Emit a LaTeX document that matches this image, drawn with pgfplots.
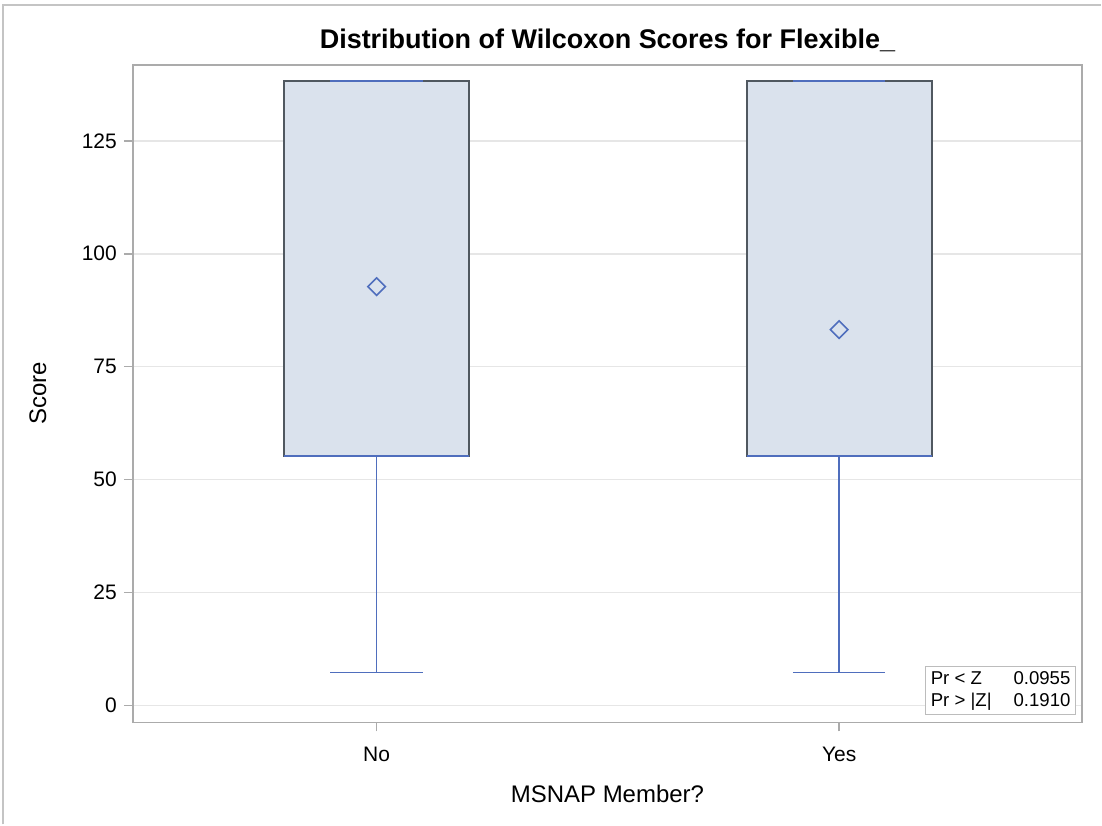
\documentclass[border=0pt]{standalone}
\usepackage{pgfplots}
\pgfplotsset{compat=1.18}
\usepackage{fontspec}
\setmainfont{Liberation Sans}
\definecolor{boxfill}{HTML}{DAE2ED}
\definecolor{boxedge}{HTML}{505860}
\definecolor{wblue}{HTML}{4F6EBD}
\definecolor{gridc}{HTML}{E6E6E6}
\definecolor{framec}{HTML}{ABABAB}
\begin{document}
\begin{tikzpicture}
\begin{axis}[
  name=ax,
  scale only axis,
  width=475pt, height=329pt,
  xmin=0.473, xmax=2.525,
  ymin=-3.76, ymax=141.8,
  xtick={1,2}, xticklabels={No,Yes},
  ytick={0,25,50,75,100,125},
  ymajorgrids, grid style={gridc, line width=0.8pt},
  axis line style={framec, line width=0.8pt},
  tick style={framec, line width=0.8pt},
  tick align=outside, major tick length=4.5pt,
  xtick pos=bottom, ytick pos=left,
  /pgf/number format/assume math mode=true,
  ticklabel style={font=\fontsize{10.5}{12}\selectfont},
  xticklabel style={yshift=-4.5pt},
  xlabel={MSNAP Member?}, ylabel={Score},
  label style={font=\fontsize{12}{14}\selectfont},
  xlabel style={at={(0.5,0)}, anchor=center, yshift=-36pt},
  ylabel style={at={(0,0.5)}, anchor=center, yshift=47.5pt},
  title={Distribution of Wilcoxon Scores for Flexible\_},
  title style={font=\bfseries\fontsize{13.5}{15}\selectfont, at={(0.5,1)}, anchor=center, yshift=6.5pt},
]
% boxes (Q1 = median = 55.3, Q3 = max = 138.3)
\addplot[draw=boxedge, fill=boxfill, line width=0.9pt] coordinates {(0.8,55.3) (1.2,55.3) (1.2,138.3) (0.8,138.3)} -- cycle;
\addplot[draw=boxedge, fill=boxfill, line width=0.9pt] coordinates {(1.8,55.3) (2.2,55.3) (2.2,138.3) (1.8,138.3)} -- cycle;
% medians
\addplot[draw=wblue, line width=1pt] coordinates {(0.8,55.3) (1.2,55.3)};
\addplot[draw=wblue, line width=1pt] coordinates {(1.8,55.3) (2.2,55.3)};
% lower whiskers and caps
\addplot[draw=wblue, line width=0.8pt] coordinates {(1,55.3) (1,7.3)};
\addplot[draw=wblue, line width=0.8pt] coordinates {(0.9,7.3) (1.1,7.3)};
\addplot[draw=wblue, line width=0.8pt] coordinates {(2,55.3) (2,7.3)};
\addplot[draw=wblue, line width=0.8pt] coordinates {(1.9,7.3) (2.1,7.3)};
% upper caps
\addplot[draw=wblue, line width=0.9pt] coordinates {(0.9,138.3) (1.1,138.3)};
\addplot[draw=wblue, line width=0.9pt] coordinates {(1.9,138.3) (2.1,138.3)};
% means
\addplot[only marks, mark=square, mark size=3.1pt, draw=wblue, line width=0.8pt,
  mark options={rotate=45, fill=none}] coordinates {(1,92.7) (2,83.2)};
\node[anchor=south east, draw=framec!80, line width=0.6pt, fill=white, inner xsep=2.5pt, inner ysep=1pt,
  font=\fontsize{9.3}{11}\selectfont, align=left]
  at (rel axis cs:1,0) [xshift=-3pt,yshift=3.5pt]
  {\begin{tabular}{@{}l@{\hspace{11pt}}r@{}}Pr < Z & 0.0955\\ Pr > |Z| & 0.1910\end{tabular}};
\end{axis}
\path ([xshift=-66.5pt,yshift=-51pt]ax.south west) rectangle ([xshift=484.5pt,yshift=361.5pt]ax.south west);
\draw[framec!70, line width=1pt] ([xshift=-65pt,yshift=-51pt]ax.south west) -- ([xshift=-65pt,yshift=358.8pt]ax.south west) -- ([xshift=484.5pt,yshift=358.8pt]ax.south west);
\end{tikzpicture}
\end{document}
